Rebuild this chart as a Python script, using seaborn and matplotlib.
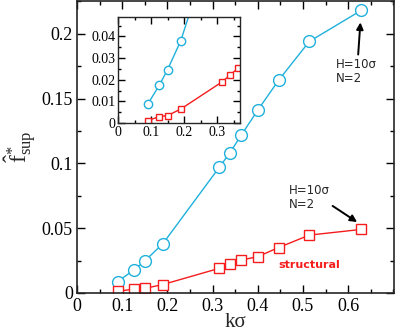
import numpy as np
import pandas as pd
import matplotlib
matplotlib.use("Agg")
import matplotlib.pyplot as plt
from matplotlib.ticker import MultipleLocator, FixedLocator, FormatStrFormatter
import seaborn as sns

# data
k_sigma = [0.09, 0.125, 0.15, 0.19, 0.315, 0.338, 0.364, 0.40, 0.446, 0.514, 0.629]
viscous = [0.0088, 0.0175, 0.0247, 0.038, 0.097, 0.108, 0.122, 0.141, 0.164, 0.194, 0.218]
structural = [0.0012, 0.003, 0.0035, 0.0065, 0.019, 0.022, 0.0254, 0.028, 0.035, 0.0446, 0.049]

blue = "#1fb1dc"
red = "#f41c1c"

df = pd.DataFrame({"k": k_sigma * 2,
                   "f": viscous + structural,
                   "kind": ["viscous"] * len(k_sigma) + ["structural"] * len(k_sigma)})

sns.set_style("ticks")
plt.rcParams["font.family"] = ["Liberation Serif", "DejaVu Serif"]
plt.rcParams["mathtext.fontset"] = "custom"
plt.rcParams["mathtext.rm"] = "Liberation Serif"
plt.rcParams["mathtext.it"] = "Liberation Serif:italic"

fig = plt.figure(figsize=(3.95, 3.31), dpi=100)
ax = fig.add_axes([0.195, 0.115, 0.803, 0.883])


def draw(a, ms_c, ms_s, lw):
    sns.lineplot(data=df[df.kind == "viscous"], x="k", y="f", ax=a, color=blue,
                 marker="o", markersize=ms_c, markerfacecolor="white",
                 markeredgecolor=blue, markeredgewidth=1.0, linewidth=lw)
    sns.lineplot(data=df[df.kind == "structural"], x="k", y="f", ax=a, color=red,
                 marker="s", markersize=ms_s, markerfacecolor="white",
                 markeredgecolor=red, markeredgewidth=1.0, linewidth=lw)


def style(a, xticks, xmin, ymaj, ymin, fs):
    a.xaxis.set_major_locator(FixedLocator(xticks))
    a.xaxis.set_minor_locator(MultipleLocator(xmin))
    a.yaxis.set_major_locator(MultipleLocator(ymaj))
    a.yaxis.set_minor_locator(MultipleLocator(ymin))
    a.xaxis.set_major_formatter(FormatStrFormatter("%g"))
    a.yaxis.set_major_formatter(FormatStrFormatter("%g"))
    a.tick_params(which="both", direction="in", top=True, right=True,
                  labelsize=fs, width=1.0, colors="black")
    a.tick_params(which="major", length=6)
    a.tick_params(which="minor", length=3)
    for s in a.spines.values():
        s.set_linewidth(1.2)
        s.set_visible(True)
    a.set_xlabel("")
    a.set_ylabel("")


draw(ax, 8.5, 7, 1.0)
ax.set_xlim(0, 0.702)
ax.set_ylim(0, 0.2255)
style(ax, [0, 0.1, 0.2, 0.3, 0.4, 0.5, 0.6], 0.05, 0.05, 0.025, 13)
ax.tick_params(axis="y", pad=3)
ax.tick_params(axis="x", pad=4)
ax.set_xlabel("k\u03c3", fontsize=15, labelpad=-2)
ax.set_ylabel(r"$\hat{\mathrm{f}}^{*}_{\mathrm{sup}}$", fontsize=17, labelpad=2)

ax.text(0.303, 0.2, "viscous", color=blue, fontsize=8, fontweight="bold",
        family="DejaVu Sans", ha="center", va="center")
ax.text(0.515, 0.0215, "structural", color=red, fontsize=8, fontweight="bold",
        family="DejaVu Sans", ha="center", va="center")
ax.annotate("H=10\u03c3\nN=2", xy=(0.628, 0.213), xytext=(0.572, 0.171),
            fontsize=8.5, family="DejaVu Sans", ha="left", va="center",
            linespacing=1.1,
            arrowprops=dict(arrowstyle="-|>", color="black", lw=1.4,
                            mutation_scale=10, shrinkA=0, shrinkB=4,
                            relpos=(0.55, 1.0)))
ax.annotate("H=10\u03c3\nN=2", xy=(0.625, 0.0535), xytext=(0.468, 0.074),
            fontsize=8.5, family="DejaVu Sans", ha="left", va="center",
            linespacing=1.1,
            arrowprops=dict(arrowstyle="-|>", color="black", lw=1.4,
                            mutation_scale=10, shrinkA=0, shrinkB=2,
                            relpos=(1.0, 0.25)))

ins = fig.add_axes([0.299, 0.628, 0.309, 0.321])
ins.set_facecolor("white")
draw(ins, 6, 5, 1.0)
ins.set_xlim(0, 0.37)
ins.set_ylim(0, 0.049)
style(ins, [0, 0.1, 0.2, 0.3], 0.05, 0.01, 0.005, 10)
ins.tick_params(which="major", length=5)
ins.tick_params(which="minor", length=2.5)
ins.tick_params(axis="x", pad=2)
ins.tick_params(axis="y", pad=2)
for s in ins.spines.values():
    s.set_linewidth(1.0)

fig.savefig("out.png", dpi=100)
